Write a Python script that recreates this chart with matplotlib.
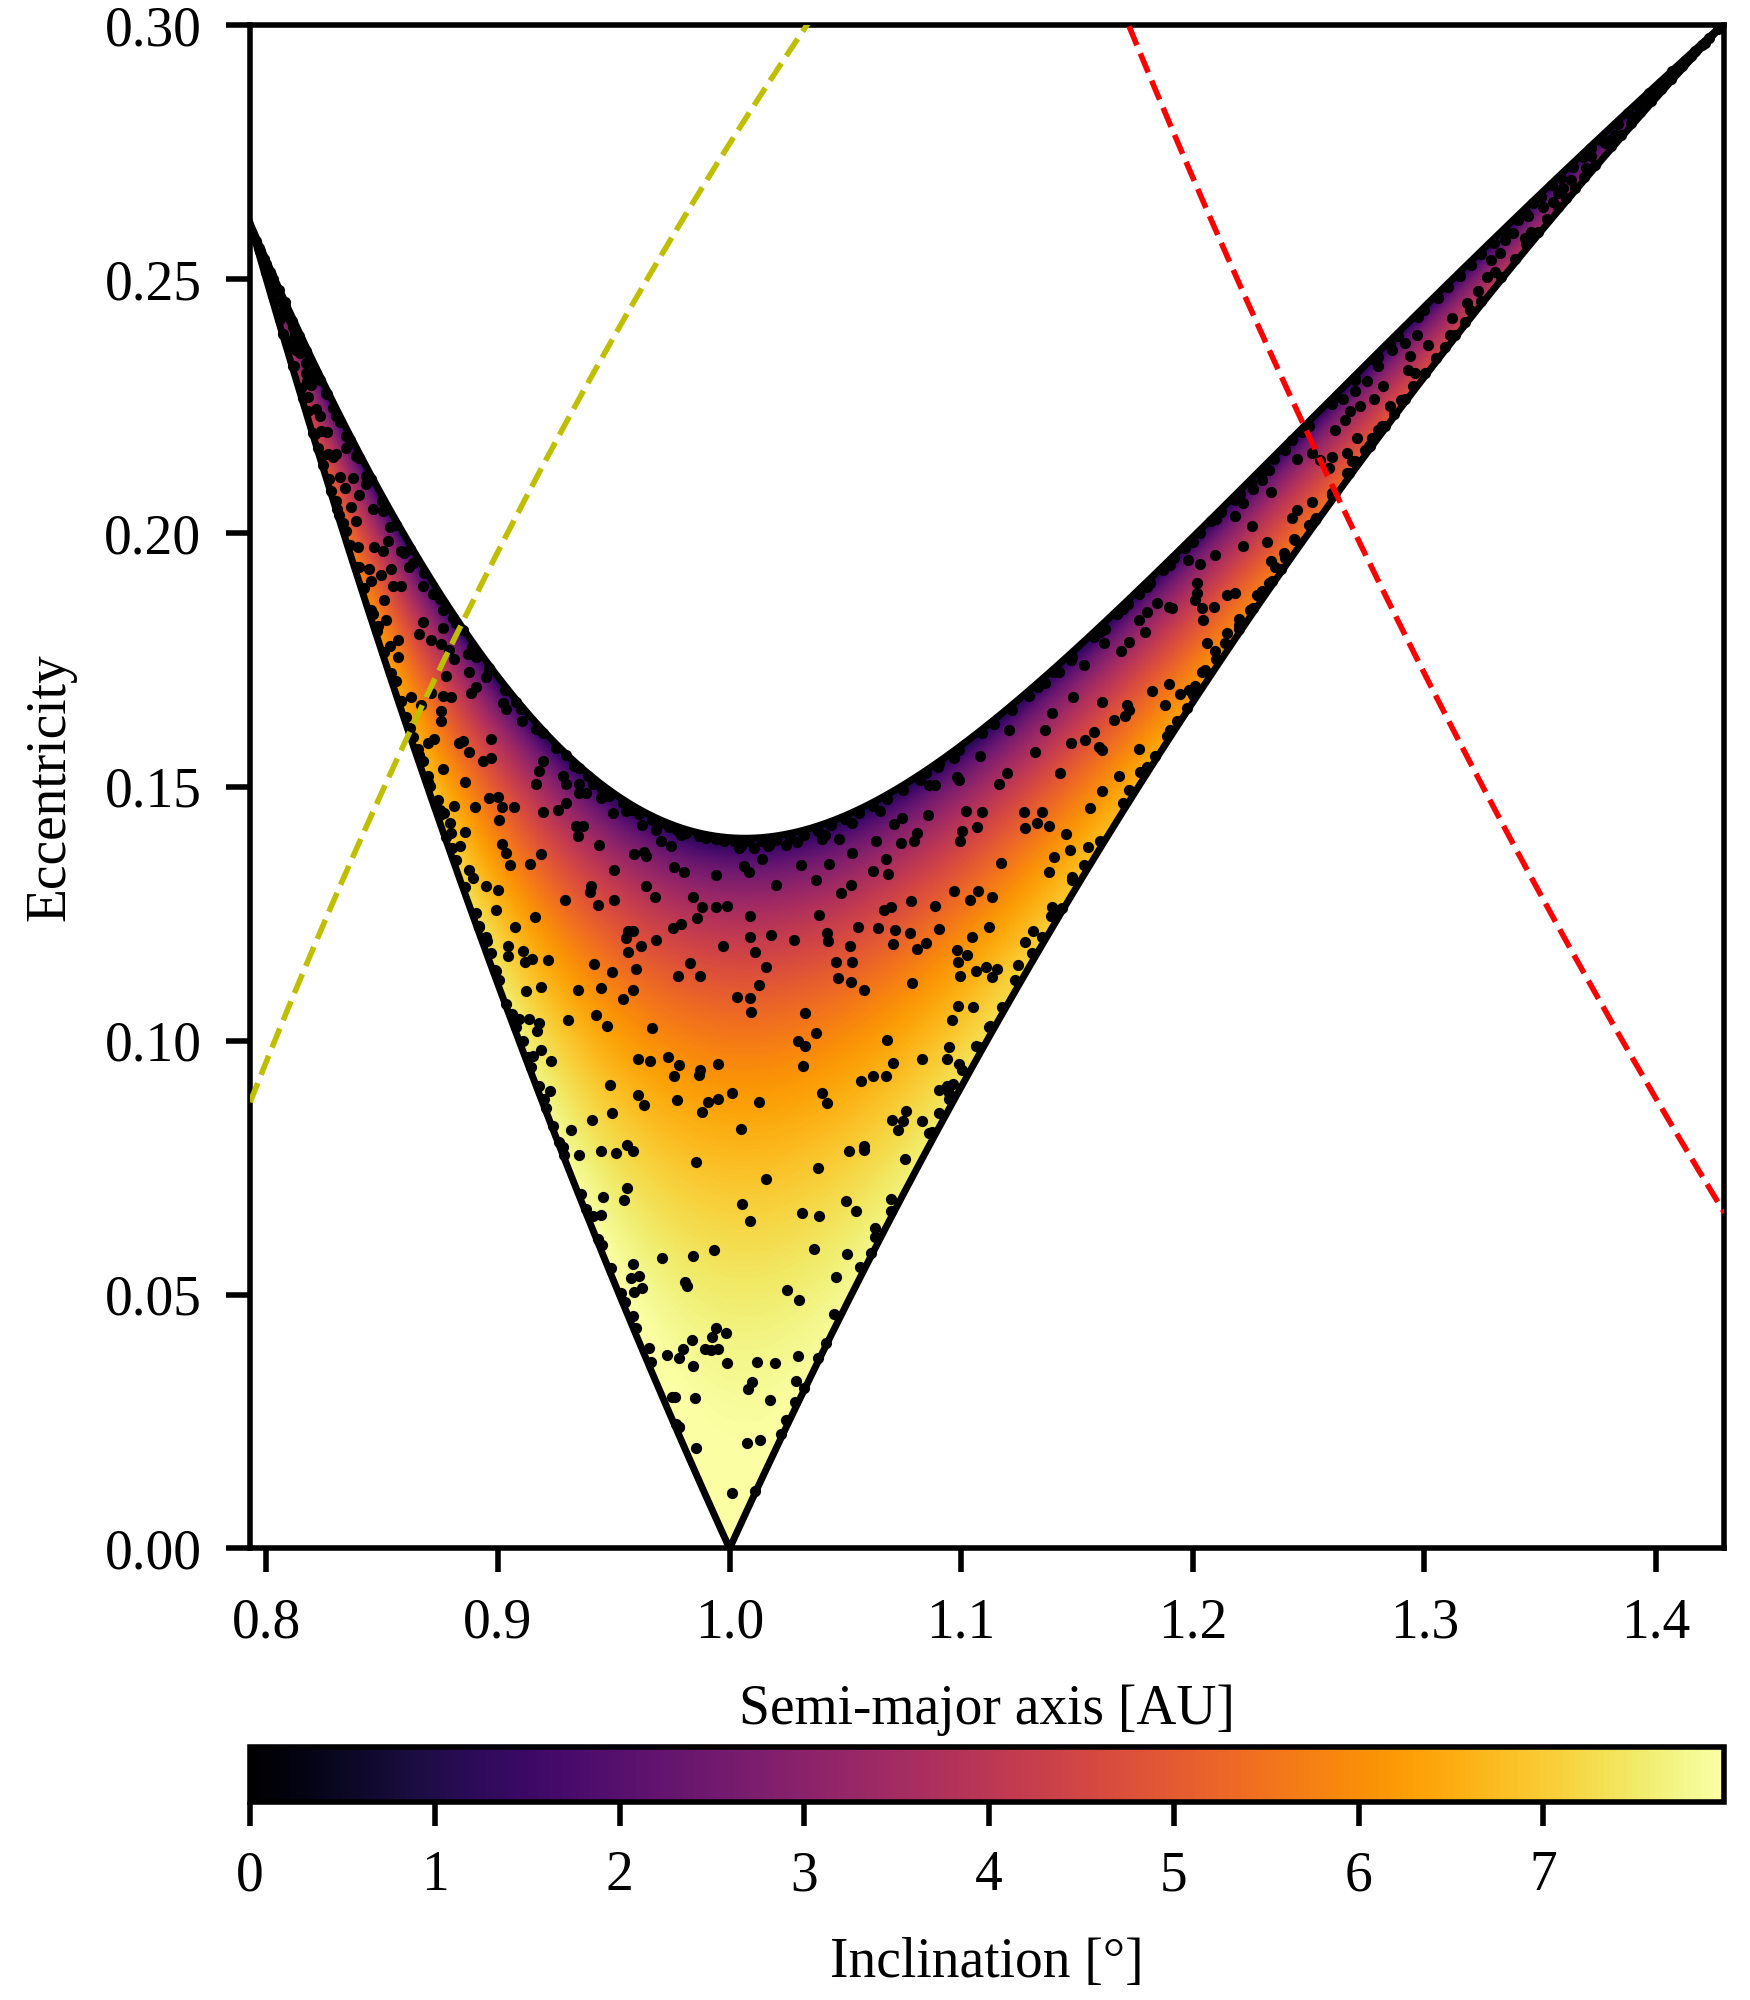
import numpy as np
import matplotlib
matplotlib.use("Agg")
import matplotlib.pyplot as plt
from matplotlib.ticker import FormatStrFormatter

plt.rcParams['font.family'] = ['Liberation Serif', 'DejaVu Serif']
plt.rcParams['font.size'] = 8

# ---------------- values ----------------
E_TOP_AT_1AU = 0.140      # eccentricity of the i = 0 boundary at a = 1 AU
Q_VENUS = 0.7233          # perihelion distance of the yellow dashed line [AU]
Q_MARS = 1.524            # aphelion distance of the red dashed line [AU]
A_LIM = (0.7930, 1.4295)
E_LIM = (0.0, 0.30)
INCL_RANGE = (0.0, 7.98)
X_TICKS = [0.8, 0.9, 1.0, 1.1, 1.2, 1.3, 1.4]
Y_TICKS = [0.00, 0.05, 0.10, 0.15, 0.20, 0.25, 0.30]
CBAR_TICKS = [0, 1, 2, 3, 4, 5, 6, 7]

# scattered orbits (a [AU], e)
dots_left_arm = [
    (0.7955,0.2575),(0.7975,0.2555),(0.7990,0.2540),(0.8005,0.2522),(0.8015,0.2515),(0.8030,0.2500),
    (0.8040,0.2480),(0.8055,0.2478),(0.8065,0.2455),(0.8080,0.2455),(0.8090,0.2430),(0.8105,0.2420),
    (0.8115,0.2405),(0.8125,0.2395),(0.8140,0.2380),(0.8150,0.2360),(0.8160,0.2365),(0.8170,0.2335),
    (0.8185,0.2340),(0.8195,0.2310),(0.8205,0.2320),(0.8144,0.2354),(0.8100,0.2370),(0.8172,0.2315),
    (0.8194,0.2292),(0.8179,0.2269),(0.8215,0.2245),(0.8237,0.2202),(0.8266,0.2156),(0.8302,0.2156),
    (0.8000,0.2530),(0.8025,0.2490),(0.8070,0.2440),(0.8110,0.2380),(0.8130,0.2360),(0.8175,0.2300),
    (0.8230,0.2230),(0.8260,0.2200),(0.8290,0.2150),(0.8320,0.2110),
    (0.8345,0.2167),(0.8373,0.2109),(0.8338,0.2089),(0.8431,0.2097),(0.8402,0.2074),(0.8460,0.2047),
    (0.8366,0.2051),(0.8388,0.2023),(0.8316,0.2035),(0.8345,0.2004),(0.8395,0.1973),(0.8467,0.1973),
    (0.8503,0.1965),(0.8524,0.1984),(0.8596,0.1961),(0.8445,0.1930),(0.8496,0.1918),(0.8452,0.1906),
    (0.8539,0.1930),(0.8546,0.1895),(0.8582,0.1895),(0.8618,0.1934),(0.8675,0.1895),(0.8510,0.1868),
    (0.8517,0.1829),(0.8675,0.1825),(0.8661,0.1801),(0.8711,0.1790),(0.8754,0.1782),(0.8761,0.1813),
    (0.8790,0.1770),(0.8532,0.1778),(0.8567,0.1790),(0.8567,0.1755),(0.8812,0.1751),(0.8869,0.1762),
    (0.8905,0.1755),(0.8876,0.1727),(0.8776,0.1719),(0.8711,0.1684),(0.8761,0.1680),(0.8797,0.1677),
    (0.8884,0.1684),(0.8905,0.1696),(0.8948,0.1716),(0.8625,0.1677),(0.8668,0.1661),(0.8754,0.1649),
    (0.8754,0.1630),(0.8848,0.1591),(0.8876,0.1568),(0.8833,0.1587),(0.8697,0.1587),(0.8726,0.1595),
    (0.8970,0.1595),(0.8934,0.1552),(0.8970,0.1556),(0.8761,0.1536),(0.9020,0.1665),(0.9034,0.1653),
    (0.9106,0.1630),(0.9164,0.1614),(0.9193,0.1552),(0.9178,0.1532),(0.9279,0.1521),
]

dots_left_edges = [
    (0.8244,0.2135),(0.8280,0.2082),(0.8304,0.2048),(0.8402,0.1934),(0.8460,0.1840),(0.8481,0.1817),
    (0.8560,0.1708),(0.8582,0.1669),(0.8603,0.1638),(0.8632,0.1599),(0.8654,0.1575),(0.8675,0.1552),
    (0.8697,0.1521),(0.8115,0.2330),(0.8158,0.2266),(0.8201,0.2198),(0.8072,0.2392),(0.8222,0.2168),
    (0.797,0.2562),(0.800,0.2515),(0.803,0.2468),(0.806,0.2422),(0.809,0.2376),(0.812,0.2330),
    (0.815,0.2285),(0.818,0.2240),(0.821,0.2195),(0.824,0.2151),(0.827,0.2107),(0.830,0.2063),
    (0.833,0.2020),(0.836,0.1977),(0.839,0.1934),(0.842,0.1891),(0.845,0.1849),(0.848,0.1807),
    (0.851,0.1766),(0.854,0.1725),(0.858,0.1670),(0.862,0.1616),(0.866,0.1562),(0.870,0.1509),
    (0.875,0.1444),(0.880,0.1379),(0.886,0.1302),(0.892,0.1226),(0.899,0.1138),(0.906,0.1053),
    (0.913,0.0968),(0.920,0.0885),(0.928,0.0791),(0.936,0.0699),(0.945,0.0597),(0.955,0.0486),
    (0.966,0.0367),(0.978,0.0240),
    (0.8302,0.2230),(0.8345,0.2191),(0.8388,0.2152),(0.8431,0.2113),(0.8503,0.2043),(0.8532,0.2012),
    (0.8582,0.1965),(0.8632,0.1942),(0.8718,0.1879),(0.8761,0.1848),(0.8805,0.1832),(0.8848,0.1809),
    (0.8963,0.1735),(0.9078,0.1668),(0.9193,0.1607),(0.9293,0.1562),(0.9351,0.1538),(0.9387,0.1521),
    (0.8258,0.2276),(0.8215,0.2315),
    (0.799,0.2538),(0.802,0.2508),(0.805,0.2478),(0.808,0.2447),(0.811,0.2417),(0.814,0.2388),
    (0.817,0.2359),(0.823,0.2302),(0.826,0.2274),(0.829,0.2246),(0.832,0.2219),(0.836,0.2184),
    (0.840,0.2148),(0.845,0.2106),(0.850,0.2064),(0.856,0.2015),(0.862,0.1968),(0.868,0.1922),
    (0.875,0.1871),(0.882,0.1822),(0.889,0.1776),(0.896,0.1731),(0.903,0.1691),(0.910,0.1653),
    (0.917,0.1615),(0.925,0.1577),(0.933,0.1542),
]

dots_center_left = [
    (0.8860,0.1509),(0.9164,0.1506),(0.9294,0.1506),(0.9348,0.1506),(0.8963,0.1478),(0.8999,0.1480),
    (0.8812,0.1463),(0.8901,0.1461),(0.9018,0.1460),(0.9071,0.1460),(0.9193,0.1450),(0.9258,0.1455),
    (0.9294,0.1468),(0.9351,0.1488),(0.9380,0.1488),(0.9445,0.1478),(0.9495,0.1448),(0.9552,0.1452),
    (0.8748,0.1455),(0.8769,0.1448),(0.8791,0.1429),(0.8860,0.1412),(0.9003,0.1435),(0.9337,0.1422),
    (0.9368,0.1422),(0.9344,0.1404),(0.9437,0.1386),(0.9624,0.1425),(0.9682,0.1415),(0.9703,0.1393),
    (0.9746,0.1383),(0.9789,0.1406),(0.8798,0.1409),(0.8837,0.1383),(0.9018,0.1387),(0.9035,0.1370),
    (0.9054,0.1347),(0.9140,0.1349),(0.9186,0.1368),(0.9502,0.1337),(0.9588,0.1368),(0.9631,0.1371),
    (0.9639,0.1363),(0.9761,0.1342),(0.9804,0.1333),(0.9943,0.1326),(0.8877,0.1337),(0.8891,0.1320),
    (0.8949,0.1305),(0.8999,0.1296),(0.9401,0.1305),(0.9399,0.1292),(0.9291,0.1278),(0.9430,0.1267),
    (0.9502,0.1278),(0.9641,0.1305),(0.9679,0.1283),(0.9840,0.1283),(0.9883,0.1263),(0.9943,0.1264),
    (0.9991,0.1266),(0.9861,0.1241),(0.8992,0.1258),(0.8906,0.1251),(0.9074,0.1224),(0.9160,0.1243),
    (0.9756,0.1222),(0.9789,0.1230),(0.9560,0.1217),(0.9581,0.1217),(0.9552,0.1202),(0.9682,0.1199),
    (0.9617,0.1186),(0.9560,0.1174),(0.9973,0.1187),(0.9042,0.1186),(0.9045,0.1167),(0.9110,0.1176),
    (0.9147,0.1161),(0.9117,0.1156),(0.9218,0.1159),(0.9416,0.1151),(0.9492,0.1136),(0.9595,0.1141),
    (0.9830,0.1153),(0.9873,0.1127),(0.9779,0.1127),(0.8953,0.1197),(0.8989,0.1140),(0.9186,0.1105),
    (0.9121,0.1097),(0.9347,0.1100),(0.9445,0.1104),(0.9581,0.1099),(0.9542,0.1083),(0.9035,0.1072),
    (0.9090,0.1043),(0.9136,0.1043),(0.9179,0.1035),(0.9167,0.1020),(0.9301,0.1041),(0.9423,0.1050),
    (0.9470,0.1029),(0.9664,0.1025),(0.9110,0.1000),(0.9153,0.0970),(0.9186,0.0982),(0.9229,0.0961),
    (0.9603,0.0964),(0.9656,0.0960),(0.9736,0.0968),(0.9782,0.0953),(0.9761,0.0930),(0.9873,0.0943),
    (0.9869,0.0932),(0.9948,0.0954),(0.9179,0.0911),(0.9226,0.0901),(0.9483,0.0913),(0.9603,0.0893),
    (0.9629,0.0874),(0.9775,0.0884),(0.9909,0.0880),(0.9948,0.0885),(0.9880,0.0859),(0.9492,0.0857),
    (0.9406,0.0844),(0.9315,0.0824),(0.9208,0.0868),(0.9236,0.0833),(0.9557,0.0795),
    (0.8705,0.1501),(0.8776,0.1402),(0.8820,0.1356),(0.8949,0.1205),(0.9265,0.0800),(0.8740,0.1475),
    (0.8920,0.1225),(0.8970,0.1173),(0.9006,0.1120),(0.9078,0.1028),(0.9143,0.0949),
    (0.9409,0.1505),(0.9481,0.1482),(0.9538,0.1468),(0.9610,0.1447),(0.9667,0.1434),(0.9739,0.1421),
    (0.9811,0.1410),(0.9869,0.1404),(0.9940,0.1397),(0.9450,0.1495),(0.9580,0.1455),(0.9700,0.1428),
    (0.9775,0.1415),(0.9900,0.1400),(0.9975,0.1394),
]

dots_center_right = [
    (1.0860,0.1504),(1.0889,0.1504),(1.0990,0.1514),(1.1162,0.1506),(1.1270,0.1450),(1.1349,0.1450),
    (1.1019,0.1452),(1.1090,0.1450),(1.0858,0.1444),(1.0746,0.1438),(1.0710,0.1427),(1.0810,0.1410),
    (1.0796,0.1393),(1.0738,0.1389),(1.0631,0.1393),(1.0674,0.1358),(1.0685,0.1328),(1.0619,0.1335),
    (1.0530,0.1370),(1.0429,0.1349),(1.0472,0.1397),(1.0401,0.1397),(1.0307,0.1347),(1.0375,0.1316),
    (1.0200,0.1307),(1.0142,0.1358),(1.0085,0.1333),(1.0063,0.1345),(1.0164,0.1383),(1.0243,0.1386),
    (1.0106,0.1379),(1.0041,0.1379),(1.1069,0.1421),(1.1004,0.1414),(1.0993,0.1394),(1.1277,0.1419),
    (1.1327,0.1429),(1.1381,0.1422),(1.1453,0.1408),(1.1546,0.1381),(1.1471,0.1375),(1.1399,0.1361),
    (1.1381,0.1333),(1.1479,0.1322),(1.1529,0.1347),(1.1172,0.1351),(1.0968,0.1295),(1.1036,0.1278),
    (1.1073,0.1294),(1.1131,0.1284),(1.0889,0.1266),(1.0784,0.1276),(1.0666,0.1257),(1.0698,0.1264),
    (1.0526,0.1307),(1.0480,0.1291),(1.0386,0.1248),(1.0089,0.1245),(1.0178,0.1209),(1.0089,0.1204),
    (1.0279,0.1199),(1.0419,0.1212),(1.0426,0.1197),(1.0554,0.1225),(1.0641,0.1223),(1.0713,0.1218),
    (1.0777,0.1212),(1.0906,0.1220),(1.0846,0.1192),(1.0810,0.1181),(1.0705,0.1190),(1.0520,0.1186),
    (1.0527,0.1156),(1.0461,0.1155),(1.0468,0.1123),(1.0526,0.1115),(1.0580,0.1099),(1.0786,0.1113),
    (1.0983,0.1179),(1.1026,0.1169),(1.0986,0.1156),(1.1047,0.1204),(1.1122,0.1225),(1.1065,0.1138),
    (1.1105,0.1145),(1.1155,0.1142),(1.1134,0.1125),(1.0993,0.1128),(1.1244,0.1150),(1.1277,0.1194),
    (1.1310,0.1216),(1.1392,0.1264),(1.1389,0.1245),(1.1435,0.1262),(1.0109,0.1174),(1.0156,0.1146),
    (1.0128,0.1110),(1.0034,0.1086),(1.0087,0.1084),(1.0092,0.1056),(1.0326,0.1054),(1.0372,0.1015),
    (1.0297,0.1000),(1.0326,0.0989),(1.0317,0.0951),(1.0681,0.1002),(1.0832,0.0965),(1.0705,0.0956),
    (1.0940,0.0964),(1.0990,0.0954),(1.0947,0.0987),(1.1076,0.0987),(1.1126,0.1029),(1.0961,0.1041),
    (1.0987,0.1069),(1.1050,0.1067),(1.0566,0.0921),(1.0619,0.0930),(1.0674,0.0930),(1.0010,0.0898),
    (1.0128,0.0880),(1.0398,0.0898),(1.0422,0.0877),(1.0760,0.0861),(1.0700,0.0843),(1.0748,0.0841),
    (1.0727,0.0824),(1.0832,0.0841),(1.0906,0.0902),(1.0940,0.0910),(1.0964,0.0915),(1.0947,0.0885),
    (1.0875,0.0821),(1.0051,0.0826),(1.0580,0.0792),
    (1.1479,0.1317),(1.1421,0.1258),(1.1349,0.1205),(1.1306,0.1173),(1.1234,0.1120),(1.1177,0.1067),
    (1.1119,0.1028),(1.1062,0.0989),(1.1004,0.0943),(1.0947,0.0897),(1.0904,0.0857),(1.0860,0.0818),
    (1.002,0.1393),(1.008,0.1394),(1.014,0.1394),(1.020,0.1396),(1.026,0.1400),(1.032,0.1405),
    (1.038,0.1414),(1.044,0.1425),(1.050,0.1437),(1.056,0.1449),(1.062,0.1462),(1.068,0.1476),
    (1.075,0.1494),(1.082,0.1514),(1.090,0.1540),(1.005,0.1383),(1.017,0.1385),(1.029,0.1392),
    (1.041,0.1406),(1.053,0.1428),(1.065,0.1452),
]

dots_bottom = [
    (0.9348,0.0775),(0.9445,0.0782),(0.9509,0.0778),(0.9581,0.0782),(0.9854,0.0762),(0.9452,0.0693),
    (0.9559,0.0709),(0.9545,0.0686),(0.9445,0.0657),(0.9707,0.0572),(0.9840,0.0575),(0.9933,0.0587),
    (0.9581,0.0560),(0.9574,0.0532),(0.9607,0.0537),(0.9588,0.0506),(0.9621,0.0512),(0.9808,0.0524),
    (0.9818,0.0516),(0.9940,0.0434),(0.9926,0.0416),(0.9986,0.0424),(0.9837,0.0411),(0.9728,0.0381),
    (0.9782,0.0375),(0.9799,0.0392),(0.9894,0.0392),(0.9919,0.0390),(0.9952,0.0392),(0.9840,0.0360),
    (0.9991,0.0366),(0.9765,0.0298),(0.9851,0.0296),(0.9854,0.0197),
    (0.9286,0.0775),(0.9380,0.0668),(0.9409,0.0654),(0.9430,0.0610),(0.9488,0.0552),(0.9531,0.0503),
    (0.9581,0.0457),(0.9595,0.0434),(0.9653,0.0394),(0.9753,0.0299),(0.9768,0.0246),(0.9782,0.0240),
    (1.0515,0.0782),(1.0580,0.0785),(1.0757,0.0767),(1.0383,0.0749),(1.0156,0.0728),(1.0053,0.0679),
    (1.0087,0.0644),(1.0314,0.0660),(1.0386,0.0655),(1.0501,0.0685),(1.0544,0.0665),(1.0695,0.0688),
    (1.0698,0.0664),(1.0626,0.0632),(1.0630,0.0614),(1.0364,0.0589),(1.0508,0.0579),(1.0561,0.0555),
    (1.0609,0.0582),(1.0461,0.0535),(1.0249,0.0509),(1.0300,0.0490),(1.0451,0.0462),(1.0415,0.0405),
    (1.0383,0.0375),(1.0297,0.0379),(1.0120,0.0368),(1.0195,0.0365),(1.0096,0.0327),(1.0080,0.0314),
    (1.0285,0.0329),(1.0321,0.0316),(1.0175,0.0293),(1.0281,0.0289),(1.0245,0.0252),(1.0224,0.0225),
    (1.0077,0.0207),(1.0132,0.0214),(1.0010,0.0110),(1.0110,0.0114),
]

dots_right_arm = [
    (1.1475,0.1750),(1.1529,0.1740),(1.1424,0.1727),(1.1363,0.1704),(1.1483,0.1677),(1.1392,0.1645),
    (1.1205,0.1612),(1.1363,0.1613),(1.1533,0.1592),(1.1475,0.1586),(1.1083,0.1560),(1.1320,0.1568),
    (1.0968,0.1556),(1.0983,0.1520),(1.1198,0.1527),(1.1428,0.1528),
    (1.1292,0.1680),(1.1220,0.1652),(1.1090,0.1606),(1.0990,0.1572),(1.0904,0.1545),(1.0846,0.1527),
    (1.1400,0.1727),(1.1480,0.1756),(1.1140,0.1624),(1.1330,0.1696),
    (1.1616,0.1783),(1.1688,0.1767),(1.1723,0.1786),(1.1767,0.1829),(1.1795,0.1806),(1.1802,0.1845),
    (1.1846,0.1863),(1.1896,0.1855),(1.1910,0.1852),(1.1979,0.1947),(1.2032,0.1939),(1.2094,0.1957),
    (1.2018,0.1901),(1.2018,0.1882),(1.2011,0.1868),(1.2040,0.1852),(1.2044,0.1829),(1.2090,0.1854),
    (1.2147,0.1878),(1.2183,0.1882),(1.2061,0.1783),(1.2097,0.1767),(1.2147,0.1803),(1.2183,0.2033),
    (1.2215,0.2060),(1.2215,0.1975),(1.2255,0.2014),(1.2258,0.2086),(1.2298,0.2105),(1.2338,0.2080),
    (1.2327,0.2124),(1.2320,0.1983),(1.2338,0.1944),(1.2356,0.1934),(1.2392,0.1960),(1.2341,0.1905),
    (1.2277,0.1878),(1.2248,0.1849),(1.2198,0.1830),(1.2449,0.2146),(1.2514,0.2157),(1.2550,0.2144),
    (1.2600,0.2149),(1.2614,0.2203),(1.2658,0.2223),(1.2665,0.2157),(1.2708,0.2187),(1.2772,0.2187),
    (1.2744,0.2164),(1.2765,0.2174),(1.2689,0.2141),(1.2586,0.2128),(1.2665,0.2118),(1.2614,0.2079),
    (1.2514,0.2062),(1.2449,0.2046),(1.2428,0.2029),(1.2531,0.2029),(1.2435,0.1988),(1.1896,0.1702),
    (1.1824,0.1688),(1.1946,0.1683),(1.1982,0.1691),(1.2011,0.1698),(1.1608,0.1668),(1.1716,0.1662),
    (1.1723,0.1652),(1.1659,0.1632),(1.1709,0.1640),(1.1573,0.1609),(1.1594,0.1579),(1.1608,0.1573),
    (1.1767,0.1574),(1.1683,0.1522),(1.1774,0.1530),(1.1608,0.1491),(1.1558,0.1458),(1.1879,0.1662),
    (1.1932,0.1629),(1.1975,0.1655),(1.2040,0.1727),
    (1.1573,0.1796),(1.1673,0.1840),(1.1767,0.1880),(1.1817,0.1902),(1.1968,0.1970),(1.2183,0.2066),
    (1.2205,0.2077),(1.2313,0.2127),(1.2399,0.2166),(1.2471,0.2199),(1.1620,0.1812),(1.1720,0.1860),
    (1.1870,0.1928),(1.1920,0.1950),(1.2030,0.2000),(1.2080,0.2024),(1.2120,0.2042),(1.2250,0.2100),
    (1.2350,0.2146),(1.2430,0.2183),
    (1.2816,0.2210),(1.2765,0.2172),(1.2672,0.2118),(1.2600,0.2075),(1.2528,0.2026),(1.2442,0.1987),
    (1.2327,0.1901),(1.2140,0.1783),(1.2054,0.1731),(1.1838,0.1560),(1.1723,0.1494),(1.1890,0.1600),
    (1.2200,0.1812),(1.2260,0.1852),(1.2380,0.1930),
    (1.16,0.1394),(1.17,0.1468),(1.18,0.1540),(1.19,0.1612),(1.20,0.1682),(1.21,0.1751),
    (1.22,0.1818),(1.23,0.1885),(1.24,0.1950),(1.25,0.2015),(1.26,0.2078),(1.27,0.2141),
    (1.28,0.2203),(1.29,0.2263),
    (1.16,0.1806),(1.17,0.1850),(1.18,0.1893),(1.19,0.1938),(1.20,0.1982),(1.21,0.2028),
    (1.22,0.2073),(1.23,0.2119),(1.24,0.2164),(1.25,0.2210),(1.26,0.2255),(1.27,0.2301),
    (1.28,0.2346),
]

dots_top_right = [
    (1.2916,0.2374),(1.2966,0.2390),(1.3016,0.2371),(1.2937,0.2348),(1.2930,0.2321),(1.2959,0.2315),
    (1.3110,0.2390),(1.3117,0.2423),(1.3182,0.2453),(1.3196,0.2440),(1.3232,0.2476),(1.3268,0.2505),
    (1.3304,0.2515),(1.3289,0.2538),(1.3325,0.2551),(1.3347,0.2578),(1.3383,0.2591),(1.3433,0.2581),
    (1.3462,0.2594),(1.3404,0.2617),(1.3447,0.2624),(1.3512,0.2643),(1.3555,0.2653),(1.3577,0.2670),
    (1.3634,0.2696),(1.3699,0.2719),(1.3720,0.2742),(1.3778,0.2768),(1.3821,0.2784),(1.3893,0.2821),
    (1.3950,0.2847),(1.4000,0.2870),(1.4100,0.2918),(1.4230,0.2975),(1.3800,0.2775),(1.3600,0.2680),
    (1.2887,0.2388),(1.2973,0.2425),(1.3059,0.2464),(1.3153,0.2507),(1.3246,0.2549),(1.3347,0.2593),
    (1.3433,0.2632),(1.3505,0.2661),(1.3591,0.2700),(1.3685,0.2740),(1.3764,0.2774),(1.3835,0.2805),
    (1.3922,0.2841),(1.4022,0.2886),(1.4123,0.2929),(1.4209,0.2966),(1.4267,0.2992),(1.3000,0.2440),
    (1.3100,0.2485),(1.3200,0.2528),(1.3300,0.2572),(1.3470,0.2650),(1.3550,0.2685),(1.3640,0.2722),
    (1.3720,0.2758),(1.3880,0.2828),(1.3970,0.2866),(1.4070,0.2910),(1.4170,0.2950),
    (1.2916,0.2265),(1.3002,0.2316),(1.3088,0.2366),(1.3174,0.2416),(1.3246,0.2458),(1.3390,0.2539),
    (1.3490,0.2594),(1.3577,0.2642),(1.3649,0.2680),(1.3735,0.2726),(1.3807,0.2763),(1.3893,0.2808),
    (1.3979,0.2851),(1.4065,0.2895),(1.4152,0.2939),(1.2950,0.2290),(1.3050,0.2345),(1.3130,0.2390),
    (1.3330,0.2505),(1.3440,0.2570),(1.3530,0.2618),(1.3610,0.2660),(1.3690,0.2702),(1.3850,0.2785),
    (1.3930,0.2830),(1.4020,0.2875),(1.4110,0.2920),(1.4200,0.2962),
    (1.2700,0.2280),(1.2720,0.2250),(1.2750,0.2300),(1.2780,0.2265),(1.2800,0.2330),(1.2820,0.2290),
    (1.2850,0.2250),(1.2860,0.2360),(1.2650,0.2265),(1.2680,0.2240),(1.2620,0.2268),(1.2700,0.2306),
    (1.2780,0.2340),(1.2850,0.2372),(1.2760,0.2172),(1.2830,0.2210),(1.2870,0.2235),
]

# ---------------- model of the accessible region ----------------
U2 = 2.0 * (1.0 - np.sqrt(1.0 - E_TOP_AT_1AU ** 2))   # squared encounter speed (Earth units)


def cos_incl(a, e):
    return (3.0 - 1.0 / a - U2) / (2.0 * np.sqrt(a * (1.0 - e ** 2)))


def e_upper(a):
    c = (3.0 - 1.0 / a - U2) / 2.0
    return np.sqrt(np.clip(1.0 - c ** 2 / a, 0, None))


def e_lower(a):
    return np.abs(1.0 - 1.0 / a)


fig = plt.figure(figsize=(3.5, 4.0), dpi=500)
ax = fig.add_axes([0.1429, 0.2258, 0.8425, 0.7615])

a_grid = np.linspace(A_LIM[0], A_LIM[1], 1800)
e_grid = np.linspace(0.0, 0.305, 1800)
A, E = np.meshgrid(a_grid, e_grid)
ci = cos_incl(A, E)
valid = (ci <= 1.0) & (E >= e_lower(A))
incl = np.degrees(np.arccos(np.clip(ci, -1, 1)))
incl = np.ma.masked_where(~valid, incl)

cmap = plt.get_cmap('inferno').copy()
cmap.set_bad((1, 1, 1, 0))
im = ax.imshow(incl, origin='lower', aspect='auto', cmap=cmap,
               vmin=INCL_RANGE[0], vmax=INCL_RANGE[1], interpolation='nearest',
               extent=[a_grid[0], a_grid[-1], e_grid[0], e_grid[-1]], zorder=1)

all_dots = np.array(dots_left_arm + dots_left_edges + dots_center_left + dots_center_right
                    + dots_bottom + dots_right_arm + dots_top_right)
ax.scatter(all_dots[:, 0], all_dots[:, 1], s=2.6, c='k', linewidths=0, zorder=3)

a_line = np.unique(np.concatenate([np.linspace(A_LIM[0], A_LIM[1], 3000), [1.0]]))
ax.plot(a_line, e_upper(a_line), color='k', lw=1.0, zorder=4)
ax.plot(a_line, e_lower(a_line), color='k', lw=1.0, zorder=4)

ax.plot(a_line, 1.0 - Q_VENUS / a_line, color='y', ls='--', lw=0.8, zorder=5)
ax.plot(a_line, Q_MARS / a_line - 1.0, color='r', ls='--', lw=0.8, zorder=5)

ax.set_xlim(A_LIM)
ax.set_ylim(E_LIM)
ax.set_xticks(X_TICKS)
ax.set_yticks(Y_TICKS)
ax.xaxis.set_major_formatter(FormatStrFormatter('%.1f'))
ax.yaxis.set_major_formatter(FormatStrFormatter('%.2f'))
ax.set_xlabel('Semi-major axis [AU]', labelpad=5)
ax.set_ylabel('Eccentricity')

cax = fig.add_axes([0.1429, 0.0992, 0.8425, 0.0272])
cb = fig.colorbar(im, cax=cax, orientation='horizontal', ticks=CBAR_TICKS)
cb.set_label('Inclination [°]', labelpad=5)

fig.savefig('out.png', dpi=500)
